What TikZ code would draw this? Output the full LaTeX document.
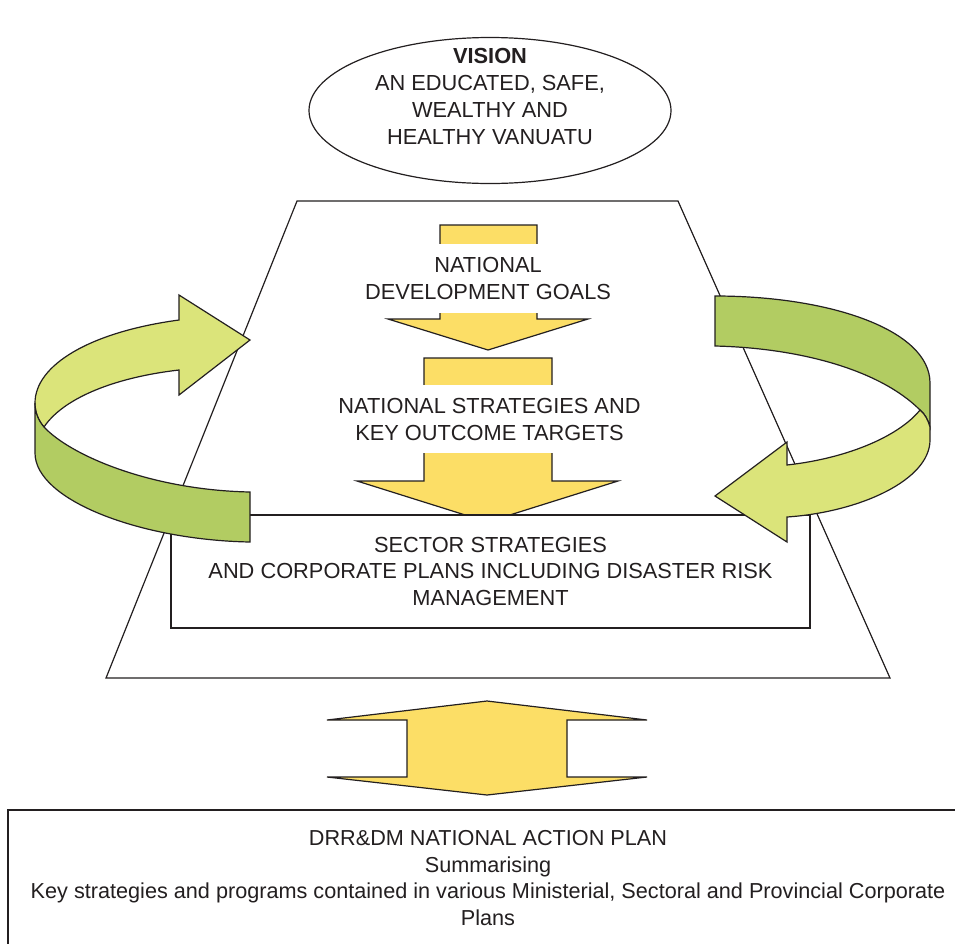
\documentclass[tikz,border=0pt]{standalone}
\usepackage{fontspec}
\setmainfont{Liberation Sans}
\usetikzlibrary{shapes.geometric}
\definecolor{yel}{RGB}{252,222,102}
\definecolor{lgr}{RGB}{219,228,122}
\definecolor{dgr}{RGB}{178,204,98}
\definecolor{ink}{RGB}{35,31,32}
\begin{document}
\begin{tikzpicture}[x=1pt,y=-1pt,line join=miter,
  outl/.style={draw=ink,line width=1.2pt},
  yarrow/.style={outl,fill=yel},
  lband/.style={outl,fill=lgr},
  dband/.style={outl,fill=dgr},
  txt/.style={font=\fontsize{21.8}{26.8}\selectfont,align=center,text=ink,inner sep=0pt},
  cover/.style={txt,fill=white,inner xsep=4pt,inner ysep=13pt}]
\clip (0,0) rectangle (955,943);
\fill[white] (0,0) rectangle (955,943);

% trapezoid frame
\draw[outl] (297,201) -- (678,201) -- (890,678) -- (106,678) -- cycle;

% vision ellipse
\node[ellipse,outl,minimum width=362pt,minimum height=146pt,inner sep=0pt] (vision) at (490,110.5) {};
\node[txt] (visiontxt) at (490,96.5) {\textbf{VISION}\\AN EDUCATED, SAFE,\\WEALTHY AND\\HEALTHY VANUATU};

% yellow arrow A
\draw[yarrow] (440,225) -- (537,225) -- (537,319) -- (588,319) -- (488,350) -- (388,319) -- (440,319) -- cycle;
\node[cover] (goals) at (488,278.6) {NATIONAL\\DEVELOPMENT GOALS};

% yellow arrow B
\draw[yarrow] (424,358) -- (552,358) -- (552,481) -- (618,481) -- (487.5,522) -- (357,481) -- (424,481) -- cycle;
\node[cover] (strat) at (489.5,419.3) {NATIONAL STRATEGIES AND\\KEY OUTCOME TARGETS};

% sector box
\node[outl,fill=white,minimum width=639pt,minimum height=113pt,inner sep=0pt] (sector) at (490.5,571.5) {};
\node[txt] (sectortxt) at (490.5,571.3) {SECTOR STRATEGIES\\AND CORPORATE PLANS INCLUDING DISASTER RISK\\MANAGEMENT};

% left green arrow
\draw[lband] (179,320) -- (179,295) -- (250,340) -- (179,395) -- (179,370)
  .. controls (110,378) and (62,400) .. (44,427)
  .. controls (38,420) and (35,412) .. (35,403)
  .. controls (35,365) and (90,332) .. (179,320) -- cycle;
\draw[dband] (35,403) .. controls (35,412) and (38,420) .. (44,427)
  .. controls (70,455) and (150,490) .. (250,492) -- (250,542)
  .. controls (140,540) and (35,500) .. (35,453) -- cycle;

% right green arrow
\draw[dband] (715,296) .. controls (830,296) and (930,330) .. (930,383) -- (930,427)
  .. controls (928,420) and (925,414) .. (920,410)
  .. controls (880,370) and (800,348) .. (715,346) -- cycle;
\draw[lband] (787,465) .. controls (850,458) and (900,435) .. (920,410)
  .. controls (925,414) and (928,420) .. (930,427) -- (930,440)
  .. controls (930,480) and (860,512) .. (787,517) -- (787,542) -- (715,496) -- (787,442) -- cycle;

% double arrow
\draw[yarrow] (327,720) -- (487,701) -- (647,720) -- (567,720) -- (567,777) -- (647,777) -- (487,795) -- (327,777) -- (407,777) -- (407,720) -- cycle;

% action plan box
\draw[outl] (8,960) -- (8,810) -- (965,810);
\node[txt,font=\fontsize{21.65}{26.5}\selectfont] (nap) at (488,878) {DRR\&DM NATIONAL ACTION PLAN\\Summarising\\Key strategies and programs contained in various Ministerial, Sectoral and Provincial Corporate\\Plans};
\end{tikzpicture}
\end{document}
